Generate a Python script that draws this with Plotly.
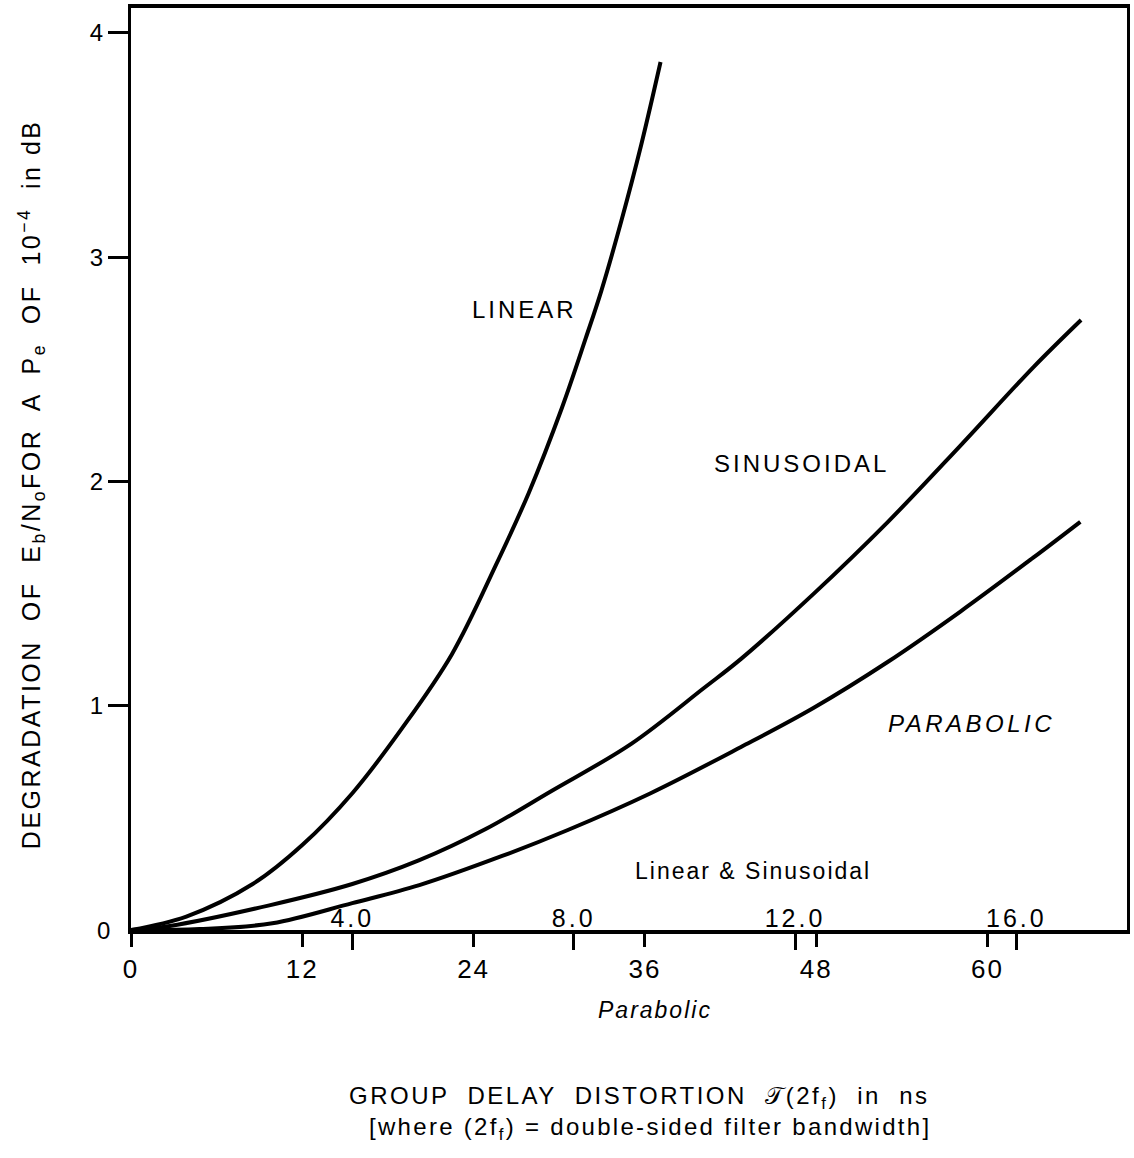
import plotly.graph_objects as go

# ---- data ----
# Linear & Sinusoidal curves use the upper ns scale (4.0 ... 16.0)
lin_x = [0, 1.0, 2.2, 3.1, 4.0, 4.9, 5.8, 6.6, 7.19, 7.79, 8.22, 8.5, 8.86, 9.22, 9.57]
lin_y = [0, 0.06, 0.205, 0.38, 0.61, 0.90, 1.23, 1.63, 1.95, 2.33, 2.64, 2.85, 3.16, 3.50, 3.87]

sin_x = [0, 0.7, 2.5, 4.0, 5.2, 6.41, 7.6, 9.04, 10.36, 11.03, 12.34, 13.68, 14.99, 16.31, 17.17]
sin_y = [0, 0.018, 0.11, 0.205, 0.31, 0.45, 0.62, 0.83, 1.08, 1.21, 1.50, 1.82, 2.16, 2.51, 2.72]

# Parabolic curve uses the lower ns scale (0 ... 60)
par_x = [0, 4.8, 9.9, 15.5, 20.2, 26.0, 30.6, 36.4, 42.7, 47.8, 53.0, 58.1, 63.2, 66.5]
par_y = [0, 0.004, 0.03, 0.12, 0.2, 0.33, 0.446, 0.61, 0.815, 0.99, 1.195, 1.42, 1.66, 1.82]

lin_ticks = [4, 8, 12, 16]
lin_ticktext = ["4.0", "8.0", "12.0", "16.0"]
par_ticks = [0, 12, 24, 36, 48, 60]
par_ticktext = ["0", "12", "24", "36", "48", "60"]
y_ticks = [1, 2, 3, 4]
y_ticktext = ["1", "2", "3", "4"]

FONT = "Liberation Sans"
BLACK = "#000000"


def spaced(text, px):
    return '<span style="letter-spacing:%spx">%s</span>' % (px, text)


fig = go.Figure()
line_style = dict(color=BLACK, width=4, shape="spline", smoothing=1.0)
fig.add_trace(go.Scatter(x=lin_x, y=lin_y, mode="lines", line=line_style, name="Linear",
                         xaxis="x", yaxis="y"))
fig.add_trace(go.Scatter(x=sin_x, y=sin_y, mode="lines", line=line_style, name="Sinusoidal",
                         xaxis="x", yaxis="y"))
fig.add_trace(go.Scatter(x=par_x, y=par_y, mode="lines", line=line_style, name="Parabolic",
                         xaxis="x2", yaxis="y"))

ann = []


def add_text(text, x, y, size, ls=0, italic=False, **kw):
    if ls:
        text = spaced(text, ls)
    if italic:
        text = "<i>" + text + "</i>"
    d = dict(text=text, x=x, y=y, xref="paper", yref="paper", showarrow=False,
             font=dict(family=FONT, size=size, color=BLACK), xanchor="center", yanchor="middle")
    d.update(kw)
    ann.append(d)


add_text("LINEAR", 0.3954, 0.6725, 24, ls=3)
add_text("SINUSOIDAL", 0.6727, 0.5065, 24, ls=3)
add_text("PARABOLIC", 0.8438, 0.2245, 24, ls=3.5, italic=True)
add_text("Linear &amp; Sinusoidal", 0.6246, 0.064, 23, ls=2)
add_text("Parabolic", 0.5265, -0.0868, 23, ls=2, italic=True)
add_text("0", -0.028, 0.0, 24)
add_text("GROUP  DELAY  DISTORTION  𝒯(2f<sub>f</sub>)  in  ns", 0.5105, -0.1822, 24, ls=2.5)
add_text("[where (2f<sub>f</sub>) = double-sided filter bandwidth]", 0.5215, -0.2158, 24, ls=2.3)
add_text("DEGRADATION  OF  E<sub>b</sub>/N<sub>o</sub>FOR  A  P<sub>e</sub>  OF  10<sup>−4</sup>  in dB",
         -0.100, 0.484, 25, ls=2.5, textangle=-90)

fig.update_layout(
    width=1134, height=1158,
    margin=dict(l=131, r=4, t=8, b=228),
    paper_bgcolor="white", plot_bgcolor="white",
    showlegend=False,
    font=dict(family=FONT, color=BLACK),
    annotations=ann,
    xaxis=dict(range=[0, 18.0], tickvals=lin_ticks,
               ticktext=[spaced(t, 3) for t in lin_ticktext],
               ticks="outside", ticklen=16, tickwidth=2.5, tickcolor=BLACK,
               ticklabelposition="inside", tickfont=dict(size=25, family=FONT, color=BLACK),
               showline=True, linewidth=4, linecolor=BLACK, mirror=True,
               showgrid=False, zeroline=False),
    xaxis2=dict(range=[0, 69.77], overlaying="x", anchor="y", side="bottom",
                tickvals=par_ticks, ticktext=[spaced(t, 2) for t in par_ticktext],
                ticks="outside", ticklen=16, tickwidth=2.5, tickcolor=BLACK,
                tickfont=dict(size=26, family=FONT, color=BLACK),
                showline=False, showgrid=False, zeroline=False),
    yaxis=dict(range=[0, 4.111], tickvals=y_ticks, ticktext=y_ticktext,
               ticks="outside", ticklen=20, tickwidth=2.5, tickcolor=BLACK,
               tickfont=dict(size=24, family=FONT, color=BLACK),
               showline=True, linewidth=3, linecolor=BLACK, mirror=True,
               showgrid=False, zeroline=False),
)

fig.write_html("out.html", config={"displayModeBar": False},
               post_script="document.body.style.margin='0';")
